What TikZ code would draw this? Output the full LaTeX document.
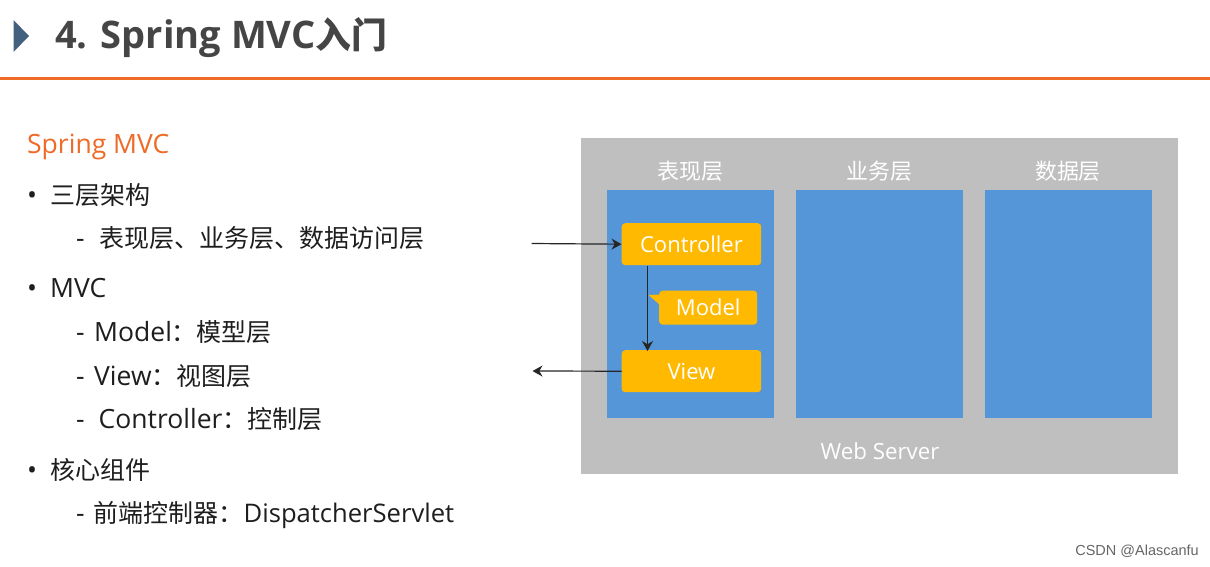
\documentclass[tikz,border=0pt]{standalone}
\usepackage{fontspec}
\setmainfont{Open Sans}
\newfontfamily\cjk[Scale=0.943]{Noto Sans CJK SC}
\newfontfamily\wmfont{Liberation Sans}
\usetikzlibrary{arrows.meta,calc}
\definecolor{orangeline}{HTML}{EE6A26}
\definecolor{graybg}{HTML}{BFBFBF}
\definecolor{bluebox}{HTML}{5596D8}
\definecolor{amberbox}{HTML}{FFB900}
\definecolor{titlegray}{HTML}{454545}
\definecolor{tri}{HTML}{44607F}
\definecolor{txt}{HTML}{1E1E1E}
\tikzset{
  x=1pt,y=-1pt,
  body/.style={anchor=base west,inner sep=0pt,text=txt,font=\fontsize{26.5}{30}\selectfont},
  layerhead/.style={anchor=center,inner sep=0pt,text=white,font=\fontsize{23.3}{26}\selectfont\cjk},
  column/.style={draw=none,fill=bluebox,anchor=north west,inner sep=0pt},
  amber/.style={fill=amberbox,rounded corners=3.5pt,anchor=north west,inner sep=0pt,text=white,align=center,font=\fontsize{22}{26}\selectfont},
  conn/.style={draw=black!85,line width=1.2pt,-{Stealth[length=10pt,width=11pt]}},
}
\begin{document}
\begin{tikzpicture}
\useasboundingbox (0,0) rectangle (1210,566);
\fill[white] (0,0) rectangle (1210,566);
% title
\fill[tri] (13.5,20) -- (29,36) -- (13.5,52) -- cycle;
\node[anchor=base west,inner sep=0pt,text=titlegray,font=\fontsize{38}{40}\selectfont\bfseries] (title) at (55,48) {4. Spring MVC{\cjk 入门}};
\fill[orangeline] (0,76.5) rectangle (1210,79.5);
% left text
\node[body,text=orangeline] (sm) at (27,153) {Spring MVC};
\node[body] (b1) at (27,204) {•\hspace{13pt}{\cjk 三层架构}};
\node[body] (b1a) at (76,247) {-\hspace{15pt}{\cjk 表现层、业务层、数据访问层}};
\node[body] (b2) at (27,297) {•\hspace{13pt}MVC};
\node[body] (b2a) at (76,341) {-\hspace{9.5pt}Model{\cjk ：模型层}};
\node[body] (b2b) at (76,385) {-\hspace{9.5pt}View{\cjk ：视图层}};
\node[body] (b2c) at (76,428) {-\hspace{14pt}Controller{\cjk ：控制层}};
\node[body] (b3) at (27,479) {•\hspace{13pt}{\cjk 核心组件}};
\node[body] (b3a) at (76,522) {-\hspace{9pt}{\cjk 前端控制器：}{\fontsize{25.6}{30}\selectfont DispatcherServlet}};
% server
\node[draw=none,fill=graybg,anchor=north west,inner sep=0pt,minimum width=597pt,minimum height=336pt] (server) at (581,137.5) {};
\node[layerhead] (h1) at (690.5,171) {表现层};
\node[layerhead] (h2) at (879.5,171) {业务层};
\node[layerhead] (h3) at (1068,171) {数据层};
\node[column,minimum width=167pt,minimum height=228.5pt] (c1) at (607,189.5) {};
\node[column,minimum width=167pt,minimum height=228.5pt] (c2) at (796,189.5) {};
\node[column,minimum width=167pt,minimum height=228.5pt] (c3) at (984.5,189.5) {};
\node[anchor=center,inner sep=0pt,text=white,font=\fontsize{22.3}{26}\selectfont] (ws) at (880,451) {Web Server};
% amber boxes
\node[amber,minimum width=139.5pt,minimum height=42pt] (ctl) at (621.5,223) {Controller};
\node[amber,minimum width=139.5pt,minimum height=42pt] (view) at (621.5,350) {View};
\node[amber,minimum width=98pt,minimum height=34pt] (model) at (659,290.5) {Model};
\fill[amberbox] (660,294.5) -- (648.5,295) -- (660,305) -- cycle;
% connectors
\coordinate (inS) at (531.5,243.5);
\coordinate (outE) at (532.5,371);
\coordinate (downA) at (647.5,266);
\coordinate (downB) at (647.5,351);
\draw[conn] (inS) -- (ctl.west);
\draw[conn] (view.west) -- (outE);
\draw[conn] (downA) -- (downB);
% watermark
\node[anchor=east,inner sep=0pt,text=black!60,font=\fontsize{14.5}{16}\selectfont\wmfont] (wm) at (1199,551) {CSDN @Alascanfu};
\end{tikzpicture}
\end{document}
